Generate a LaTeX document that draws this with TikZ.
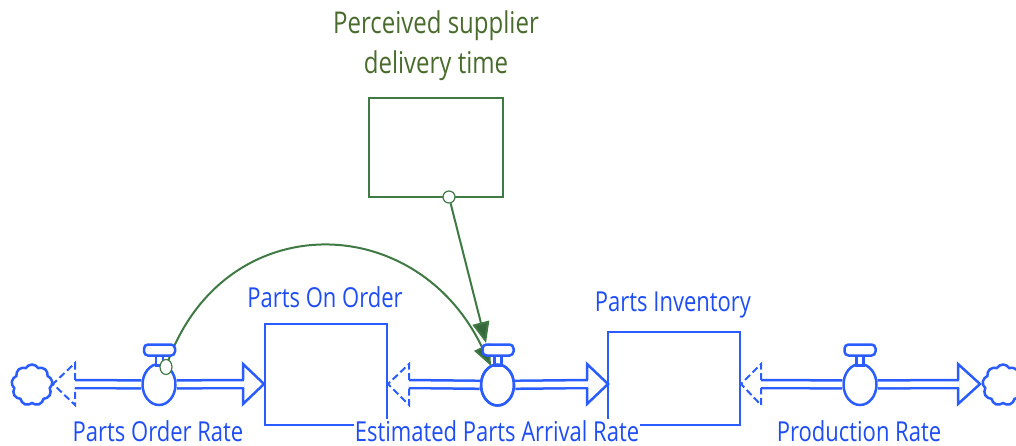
\documentclass[tikz,border=0pt]{standalone}
\usepackage{fontspec}
\setmainfont[FakeStretch=0.8]{Open Sans}
\usetikzlibrary{shapes.geometric,shapes.symbols,arrows.meta}
\definecolor{flowblue}{HTML}{2A5CFF}
\definecolor{txtblue}{HTML}{1F4DF5}
\definecolor{linkgreen}{HTML}{3F7A45}
\definecolor{txtgreen}{HTML}{4A6B2E}
\tikzset{
  x=1pt,y=-1pt,
  lbl/.style={font=\fontsize{27.5}{27.5}\selectfont,text=txtblue,inner sep=1pt},
  glbl/.style={font=\fontsize{30}{40}\selectfont,text=txtgreen,align=center,inner sep=0pt},
  stock/.style={draw=flowblue,line width=2.5pt},
  gstock/.style={draw=linkgreen,line width=2.5pt,fill=white,minimum width=134pt,minimum height=99pt,inner sep=0pt},
  valve/.style={ellipse,draw=flowblue,line width=2.5pt,fill=white,minimum width=33pt,minimum height=41pt,inner sep=0pt},
  valvebar/.style={rounded corners=4pt,draw=flowblue,line width=2.5pt,fill=white,minimum width=31pt,minimum height=11pt,inner sep=0pt},
  valvestem/.style={draw=flowblue,line width=2.2pt,fill=white,minimum width=7pt,minimum height=11pt,inner sep=0pt},
  pipe/.style={draw=flowblue,line width=2.5pt,double=white,double distance=5.5pt,line cap=butt},
  head/.style={draw=flowblue,line width=2.5pt,fill=white,line join=miter},
  dhead/.style={draw=flowblue,line width=2pt,dash pattern=on 7pt off 3.5pt},
  sink/.style={cloud,cloud puffs=9,cloud puff arc=120,aspect=1.1,draw=flowblue,line width=2.5pt,fill=white,minimum width=41pt,minimum height=41pt,inner sep=0pt},
  link/.style={draw=linkgreen,line width=2pt},
  linktip/.style={-{Triangle[length=21pt,width=17pt,fill=linkgreen!85!black]}},
  port/.style={circle,draw=linkgreen,line width=1.2pt,fill=white,minimum size=12pt,inner sep=0pt},
}
\begin{document}
\begin{tikzpicture}
\useasboundingbox (0,0) rectangle (1016,446);
% stocks
\draw[stock] (265,425) -- (265,324) -- (387,324) -- (387,425) -- cycle;
\draw[stock] (608,425) -- (608,332) -- (740,332) -- (740,425) -- cycle;
\node[gstock] (delay) at (436,147.5) {};
\node[glbl] (delaylbl) at (436,46) {Perceived supplier\\delivery time};
% valves
\node[valve] (v1) at (159,384.5) {};
\node[valve] (v2) at (497.5,385) {};
\node[valve] (v3) at (860,384.5) {};
% clouds
\node[sink] (c1) at (32,385) {};
\node[sink] (c2) at (1003,385) {};
% heads (open at the base, where the pipe enters)
\draw[head] (243,380) -- (243,364) -- (264,384) -- (243,404) -- (243,388);
\draw[head] (587,380) -- (587,364) -- (608,384) -- (587,404) -- (587,388);
\draw[head] (958,380) -- (958,364) -- (980,384) -- (958,404) -- (958,388);
\draw[dhead] (75,380) -- (75,363) -- (53,384) -- (75,405) -- (75,388);
\draw[dhead] (409,380) -- (409,364) -- (388,384) -- (409,405) -- (409,388);
\draw[dhead] (761,380) -- (761,364) -- (741,384) -- (761,405) -- (761,388);
% pipe ends
\coordinate (a1) at (75,384);
\coordinate (b1) at (244,384);
\coordinate (a2) at (409,384);
\coordinate (b2) at (588,384);
\coordinate (a3) at (761,384);
\coordinate (b3) at (959,384);
% pipes
\foreach \a/\v/\b in {a1/v1/b1,a2/v2/b2,a3/v3/b3}{
  \draw[pipe] (\a) -- (\v);
  \draw[pipe] (\v) -- (\b);
}
% links
\node[port] (p1) at (449,197) {};
\coordinate (q1) at (166,367);
\draw[link,linktip] (p1) -- (486,343) coordinate (t1);
\draw[link,linktip] (q1) .. controls (220,207) and (415,207) .. (491,366) coordinate (t2);
% valve tops
\foreach \n/\x in {1/159.5,2/498,3/860}{
  \node[valvestem] (s\n) at (\x,360) {};
  \node[valvebar] (h\n) at (\x,350) {};
}
\node[valve,fill=none] (v2o) at (497.5,385) {};
\node[port,minimum width=12pt,minimum height=15pt,ellipse] (p2) at (166,367) {};
% labels
\node[lbl] (l1) at (158,431) {Parts Order Rate};
\node[lbl,fill=white] (l2) at (497,431) {Estimated Parts Arrival Rate};
\node[lbl,fill=white] (l3) at (859,431) {Production Rate};
\node[lbl] (l4) at (325,297) {Parts On Order};
\node[lbl] (l5) at (673,305) {Parts Inventory};
\end{tikzpicture}
\end{document}
